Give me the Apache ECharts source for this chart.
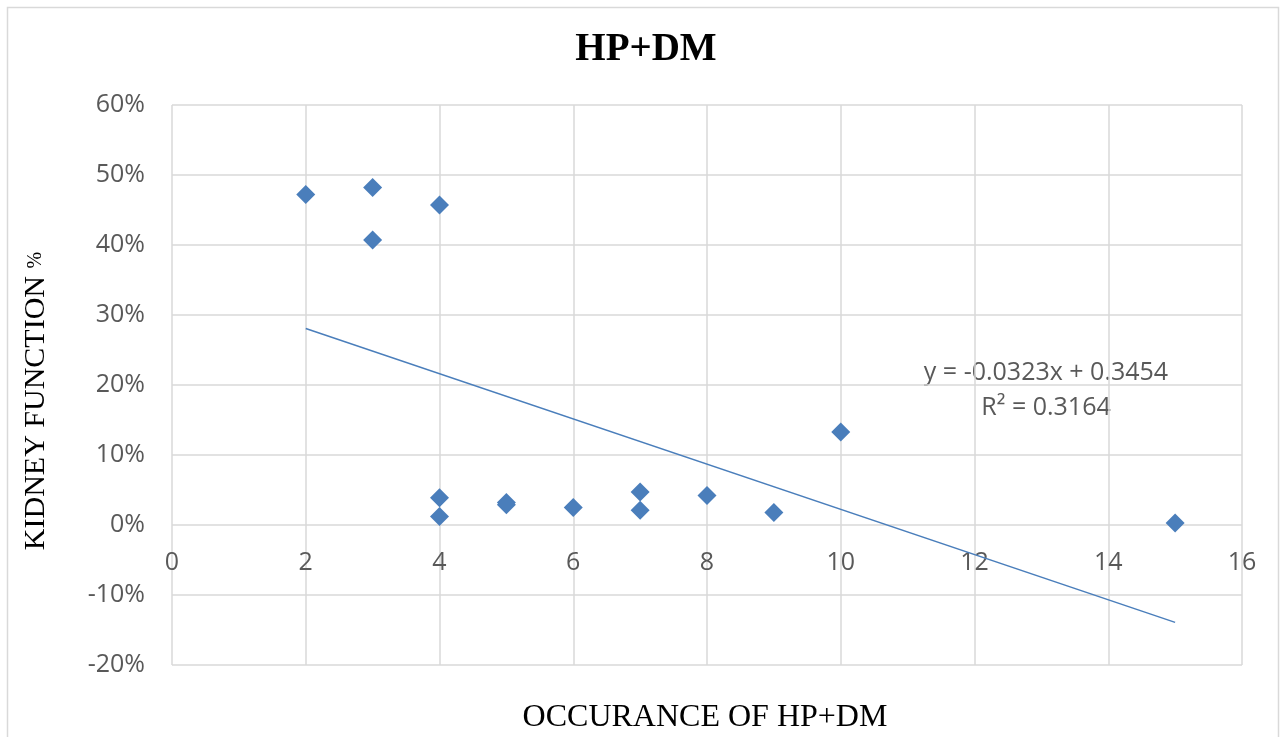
<!DOCTYPE html>
<html><head><meta charset="utf-8">
<script src="https://cdn.jsdelivr.net/npm/echarts@6/dist/echarts.min.js"></script>
<style>html,body{margin:0;padding:0;background:#fff}#c{width:1285px;height:737px}</style>
</head><body><div id="c"></div>
<script>
const occurrence = [2, 3, 3, 4, 4, 4, 5, 5, 6, 7, 7, 8, 9, 10, 15];
const kidneyFunction = [0.472, 0.482, 0.407, 0.457, 0.039, 0.012, 0.032, 0.029, 0.025, 0.047, 0.021, 0.042, 0.018, 0.133, 0.003];
const trendSlope = -0.0323;
const trendIntercept = 0.3454;
const trendRange = [2, 15];
const equationText = 'y = -0.0323x + 0.3454';
const r2Text = 'R² = 0.3164';
const titleText = 'HP+DM';
const xName = 'OCCURANCE OF HP+DM';
const yNameMain = 'KIDNEY FUNCTION';
const yNameUnit = '%';
const yMin = -0.2, yMax = 0.6;

const points = occurrence.map((x, i) => [x, kidneyFunction[i]]);
const trend = trendRange.map(x => [x, trendIntercept + trendSlope * x]);

const gridH = 560;
const chart = echarts.init(document.getElementById('c'));
const labelColor = '#595959';
chart.setOption({
  animation: false,
  backgroundColor: '#fff',
  grid: {left: 172, top: 105, width: 1070, height: gridH},
  xAxis: {
    type: 'value', min: 0, max: 16, interval: 2,
    position: 'bottom',
    offset: -(0 - yMin) / (yMax - yMin) * gridH,
    axisLine: {show: false},
    axisTick: {show: false},
    splitLine: {show: true, lineStyle: {color: '#d9d9d9', width: 1.5}},
    axisLabel: {color: labelColor, fontSize: 25, fontFamily: 'Open Sans', margin: 25}
  },
  yAxis: {
    type: 'value', min: yMin, max: yMax, interval: 0.1,
    axisLine: {show: false},
    axisTick: {show: false},
    splitLine: {show: true, lineStyle: {color: '#d9d9d9', width: 1.5}},
    axisLabel: {color: labelColor, fontSize: 25, fontFamily: 'Open Sans', margin: 27,
      formatter: v => Math.round(v * 100) + '%'}
  },
  series: [
    {
      type: 'line', data: trend, showSymbol: false, symbol: 'none',
      lineStyle: {color: '#4a7ebb', width: 1.5}, z: 2
    },
    {
      type: 'scatter', data: points, symbol: 'diamond', symbolSize: 19,
      itemStyle: {color: '#4a7ebb', opacity: 1}, z: 3
    }
  ],
  graphic: [
    {type: 'rect', shape: {x: 7.5, y: 7.5, width: 1271, height: 740}, style: {fill: 'none', stroke: '#d9d9d9', lineWidth: 1.5}, silent: true},
    {type: 'text', x: 646, y: 50, style: {text: titleText, fill: '#000', font: 'bold 39px "Liberation Serif"', align: 'center', verticalAlign: 'middle'}},
    {type: 'text', x: 1046, y: 373, style: {text: equationText, fill: labelColor, font: '25px "Open Sans"', align: 'center', verticalAlign: 'middle'}},
    {type: 'text', x: 1046, y: 408, style: {text: r2Text, fill: labelColor, font: '25px "Open Sans"', align: 'center', verticalAlign: 'middle'}},
    {type: 'text', x: 705, y: 718, style: {text: xName, fill: '#000', font: '32px "Liberation Serif"', align: 'center', verticalAlign: 'middle'}},
    {type: 'text', x: 36, y: 401, rotation: Math.PI / 2,
      style: {text: '{a|' + yNameMain + '\u00a0}{b|' + yNameUnit + '}', align: 'center', verticalAlign: 'middle',
        rich: {a: {fontFamily: 'Liberation Serif', fontSize: 30, fill: '#000', color: '#000'},
               b: {fontFamily: 'Liberation Serif', fontSize: 20, fill: '#000', color: '#000'}}}}
  ]
});
</script></body></html>
